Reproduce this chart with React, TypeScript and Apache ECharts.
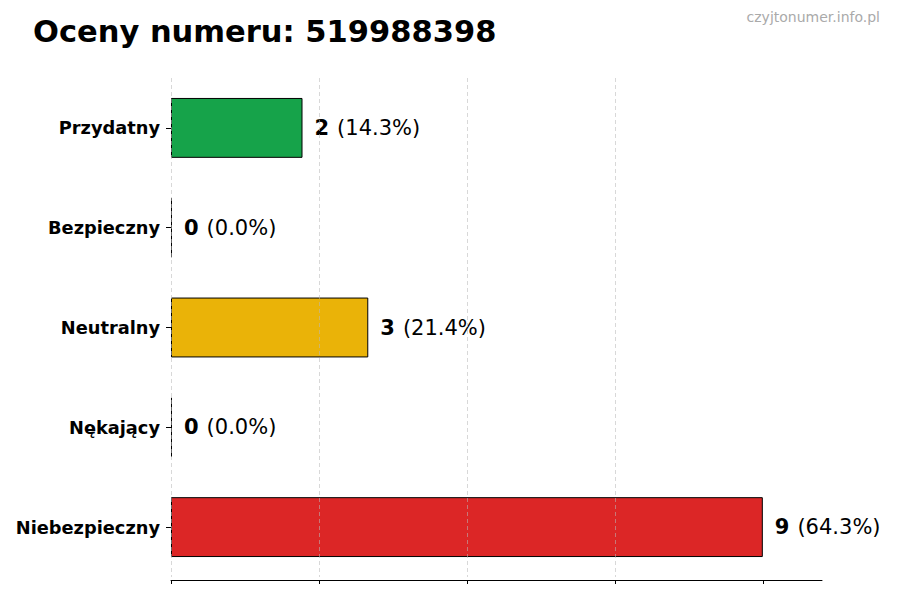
import { useEffect, useRef } from 'react';
import * as echarts from 'echarts';

const categories = ['Przydatny', 'Bezpieczny', 'Neutralny', 'Nękający', 'Niebezpieczny'];
const counts = [2, 0, 3, 0, 9];
const percents = ['14.3', '0.0', '21.4', '0.0', '64.3'];
const colors = ['#16a34a', '#9ca3af', '#eab308', '#6b7280', '#dc2626'];
const gridTicks = [0, 2.25, 4.5, 6.75, 9];

const FONT = '"DejaVu Sans", sans-serif';

export default function App() {
  const ref = useRef<HTMLDivElement>(null);

  useEffect(() => {
    if (!ref.current) return;
    const chart = echarts.init(ref.current, undefined, { renderer: 'svg' });

    // matplotlib style: first category on top
    const cats = [...categories].reverse();
    const data = counts
      .map((v, i) => ({
        value: v,
        pct: percents[i],
        itemStyle: { color: colors[i] },
      }))
      .reverse();

    const option: echarts.EChartsOption = {
      animation: false,
      textStyle: { fontFamily: FONT },
      title: [
        {
          text: 'Oceny numeru: 519988398',
          left: 33,
          top: 16,
          padding: 0,
          textStyle: { fontFamily: FONT, fontSize: 30.5, fontWeight: 'bold', color: '#000' },
        },
        {
          text: 'czyjtonumer.info.pl',
          right: 20,
          top: 10,
          padding: 0,
          textStyle: { fontFamily: FONT, fontSize: 14, fontWeight: 'normal', color: '#aaaaaa' },
        },
      ],
      grid: { left: 171, right: 78, top: 78, bottom: 23, containLabel: false },
      xAxis: {
        type: 'value',
        min: 0,
        max: 9.9,
        interval: 2.25,
        offset: 3,
        z: 3,
        axisLine: { show: true, lineStyle: { color: '#000', width: 1 } },
        axisTick: { show: true, length: 4, lineStyle: { color: '#000' }, customValues: gridTicks },
        axisLabel: { show: false },
        splitLine: {
          show: true,
          showMaxLine: false,
          lineStyle: { color: 'rgba(185,185,185,0.7)', type: [4, 3], width: 0.8 },
        },
      },
      yAxis: {
        type: 'category',
        data: cats,
        axisLine: { show: false },
        axisTick: { show: true, alignWithLabel: true, length: 5, lineStyle: { color: '#000' } },
        axisLabel: {
          fontFamily: FONT,
          fontSize: 17.8,
          fontWeight: 'bold',
          color: '#000',
          margin: 11,
        },
      },
      series: [
        {
          type: 'bar',
          data,
          barWidth: '60%',
          barMinHeight: 1,
          itemStyle: { borderColor: '#000', borderWidth: 1 },
          label: {
            show: true,
            position: 'right',
            distance: 12,
            formatter: (p: any) => `{b|${p.value}}{n|(${p.data.pct}%)}`,
            rich: {
              b: { fontFamily: FONT, fontSize: 21, fontWeight: 'bold', color: '#000' },
              n: { fontFamily: FONT, fontSize: 21, color: '#000', padding: [0, 0, 0, 8] },
            },
          },
        },
      ],
    };

    chart.setOption(option);
    return () => chart.dispose();
  }, []);

  return <div ref={ref} style={{ width: 900, height: 600, margin: -8 }} />;
}
